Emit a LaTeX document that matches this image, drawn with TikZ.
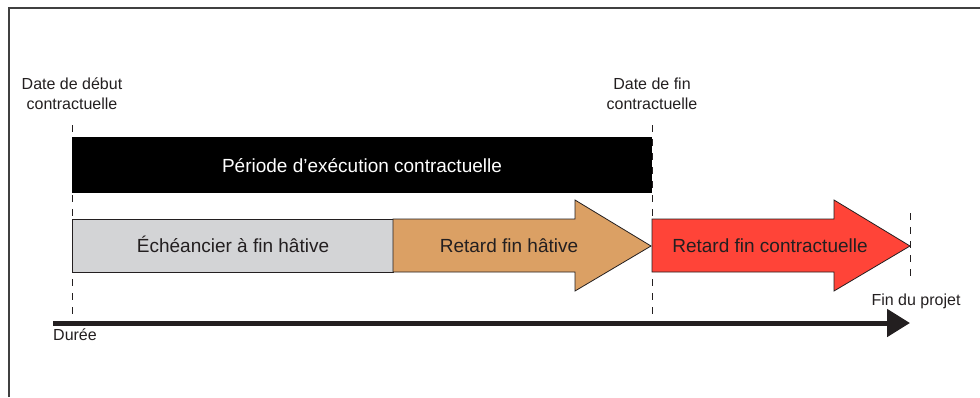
\documentclass[tikz,border=0pt]{standalone}
\usepackage{fontspec}
\setmainfont{Liberation Sans}
\usetikzlibrary{arrows.meta}
\definecolor{boxgray}{RGB}{211,212,214}
\definecolor{hatorange}{RGB}{219,160,100}
\definecolor{ctrred}{RGB}{255,68,56}
\definecolor{inkgray}{RGB}{35,31,32}
\begin{document}
\begin{tikzpicture}[x=1pt,y=-1pt,
    datelbl/.style={font=\fontsize{16}{20}\selectfont,text=inkgray,align=center,inner sep=0pt},
    boxtext/.style={font=\fontsize{19}{22}\selectfont,text=inkgray,anchor=base,inner sep=0pt},
    limit/.style={draw=inkgray,line width=1pt,dash pattern=on 7pt off 7pt},
    bar/.style={draw=inkgray,line width=0.8pt}]
    \useasboundingbox (0,0) rectangle (980,397);
    \draw[black!75,line width=2pt] (9,397) -- (9,8) -- (980,8);

    \coordinate (t0) at (72,125);  \coordinate (b0) at (72,317);
    \coordinate (t1) at (652,125); \coordinate (b1) at (652,317);
    \coordinate (t2) at (910,213); \coordinate (b2) at (910,278);
    \foreach \i in {0,1,2} { \draw[limit] (t\i) -- (b\i); }

    \fill (72,137) rectangle (652,193);
    \filldraw[bar,fill=boxgray] (72,219) rectangle (393,272);
    \foreach \s/\c in {393/hatorange, 652/ctrred} {
      \filldraw[bar,fill=\c] (\s,219) -- ++(182,0) -- ++(0,-19) -- ++(76,46) -- ++(-76,45) -- ++(0,-19) -- (\s,272) -- cycle;
    }

    \coordinate (ax0) at (53,323);
    \coordinate (ax1) at (910,323);
    \draw[inkgray,line width=5pt,-{Triangle[length=23pt,width=27pt]}] (ax0) -- (ax1);

    \node[datelbl] (debut) at (72,94) {Date de début\\contractuelle};
    \node[datelbl] (fin) at (652,94) {Date de fin\\contractuelle};
    \node[datelbl,anchor=base] (projet) at (916,305) {Fin du projet};
    \node[datelbl,anchor=base west] (duree) at (53,340) {Durée};

    \node[boxtext,text=white] (periode) at (362,172) {Période d’exécution contractuelle};
    \node[boxtext] (echeancier) at (233,252.5) {Échéancier à fin hâtive};
    \node[boxtext] (hative) at (509,252.5) {Retard fin hâtive};
    \node[boxtext] (contract) at (770,252.5) {Retard fin contractuelle};
  \end{tikzpicture}
\end{document}
